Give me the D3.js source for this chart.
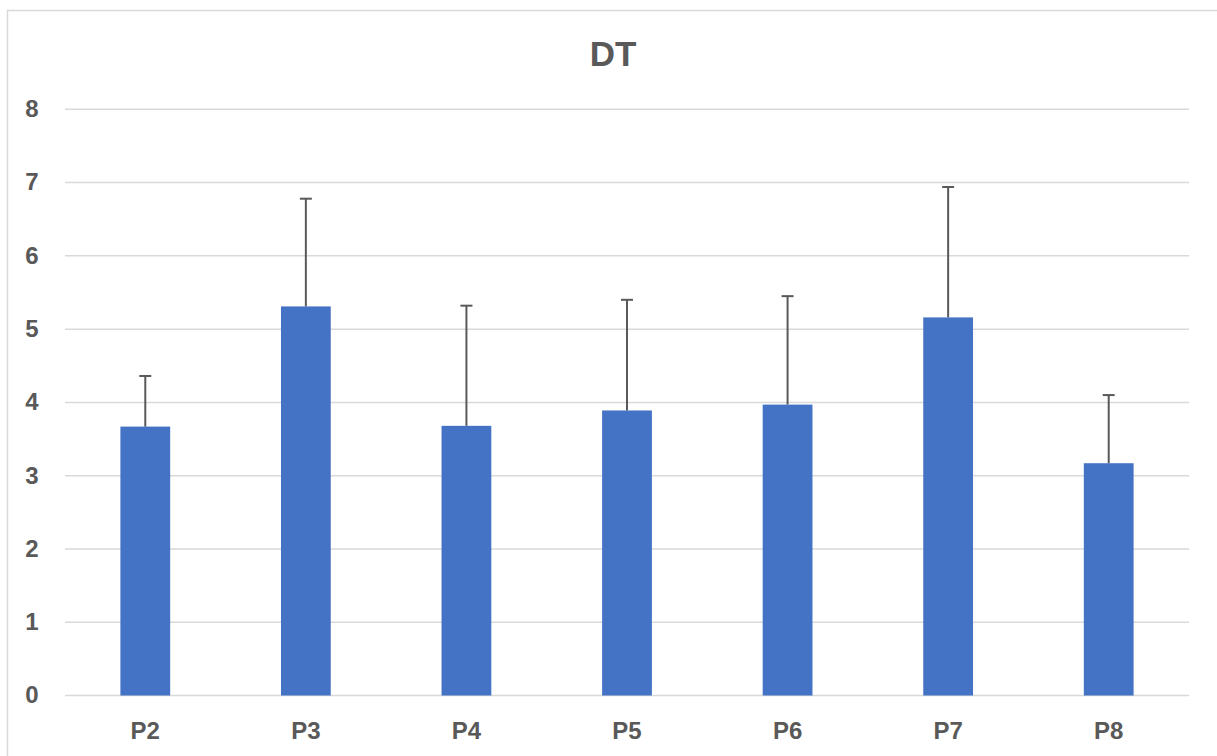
<!DOCTYPE html>
<html><head><meta charset="utf-8">
<script src="https://cdn.jsdelivr.net/npm/d3@7"></script>
<style>body{margin:0;background:#fff}svg{display:block}</style>
</head><body>
<script>
const categories = ["P2","P3","P4","P5","P6","P7","P8"];
const means = [3.67, 5.31, 3.68, 3.89, 3.97, 5.16, 3.17];
const errUpper = [4.36, 6.78, 5.32, 5.40, 5.45, 6.94, 4.10];
const yTicks = [0,1,2,3,4,5,6,7,8];
const title = "DT";

(function(){
const W = 1217, H = 756;
const svg = d3.select("body").append("svg").attr("width", W).attr("height", H);
svg.append("rect").attr("x",7.5).attr("y",10.5).attr("width",1240).attr("height",800)
  .attr("fill","#fff").attr("stroke","#d9d9d9").attr("stroke-width",1.5);

const pLeft = 65, pRight = 1189, pTop = 109.3, pBottom = 695.5;
const x = d3.scaleBand().domain(categories).range([pLeft,pRight]).paddingInner(0.69).paddingOuter(0.345);
const y = d3.scaleLinear().domain([0,8]).range([pBottom,pTop]);

const font = "Arial, 'Liberation Sans', sans-serif";
svg.append("g").selectAll("line").data(yTicks).join("line")
  .attr("x1",pLeft).attr("x2",pRight).attr("y1",d=>y(d)).attr("y2",d=>y(d))
  .attr("stroke","#d9d9d9").attr("stroke-width",1.5);

svg.append("g").selectAll("text").data(yTicks).join("text")
  .attr("x",32).attr("y",d=>y(d)).attr("dy","0.33em").attr("text-anchor","middle")
  .attr("font-family",font).attr("font-weight","bold").attr("font-size",24).attr("fill","#595959")
  .text(d=>d);

svg.append("g").selectAll("rect").data(categories).join("rect")
  .attr("x",c=>x(c)).attr("width",x.bandwidth())
  .attr("y",(c,i)=>y(means[i])).attr("height",(c,i)=>y(0)-y(means[i]))
  .attr("fill","#4472c4");

const eg = svg.append("g").attr("stroke","#595959").attr("stroke-width",2);
categories.forEach((c,i)=>{
  const cx = x(c)+x.bandwidth()/2;
  eg.append("line").attr("x1",cx).attr("x2",cx).attr("y1",y(means[i])).attr("y2",y(errUpper[i]));
  eg.append("line").attr("x1",cx-6).attr("x2",cx+6).attr("y1",y(errUpper[i])).attr("y2",y(errUpper[i]));
});

svg.append("g").selectAll("text").data(categories).join("text")
  .attr("x",c=>x(c)+x.bandwidth()/2).attr("y",739).attr("text-anchor","middle")
  .attr("font-family",font).attr("font-weight","bold").attr("font-size",24).attr("fill","#595959")
  .text(d=>d);

svg.append("text").attr("x",613).attr("y",66).attr("text-anchor","middle")
  .attr("font-family",font).attr("font-weight","bold").attr("font-size",35).attr("fill","#595959")
  .text(title);
})();
</script>
</body></html>
